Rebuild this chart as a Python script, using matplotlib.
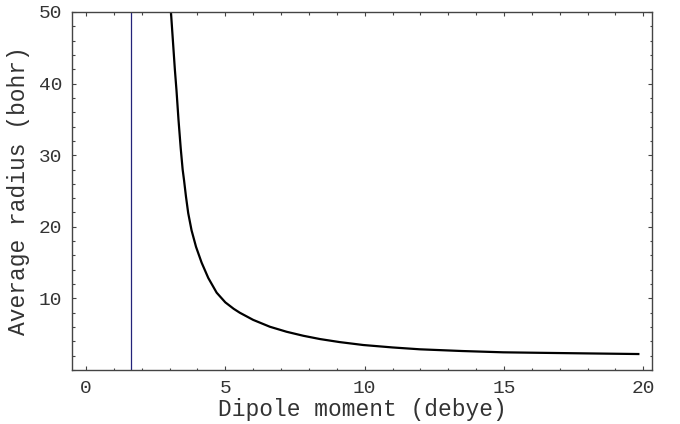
import numpy as np
import matplotlib
matplotlib.use("Agg")
import matplotlib.pyplot as plt
from matplotlib.ticker import MultipleLocator

# critical dipole moment (vertical line), debye
mu_crit = 1.625

# values: dipole moment (debye) -> average radius (bohr)
dipole = [3.05, 3.12, 3.19, 3.25, 3.32, 3.40, 3.47, 3.52, 3.59, 3.67, 3.79,
          3.95, 4.15, 4.39, 4.69, 5.00, 5.30, 5.52, 6.00, 6.60, 7.20, 7.80,
          8.40, 9.10, 9.95, 11.0, 11.98, 13.5, 14.97, 16.3, 17.73, 19.82]
radius = [50.0, 46.0, 42.0, 39.0, 35.0, 31.0, 28.0, 26.5, 24.2, 21.9, 19.5,
          17.2, 15.0, 12.85, 10.8, 9.45, 8.55, 8.0, 7.0, 6.04, 5.34, 4.78,
          4.32, 3.90, 3.49, 3.15, 2.89, 2.65, 2.47, 2.40, 2.33, 2.23]

xticks = [0, 5, 10, 15, 20]
yticks = [10, 20, 30, 40, 50]

fig = plt.figure(figsize=(6.8, 4.24), dpi=100)
ax = fig.add_axes([72/680, 54/424, 580/680, 358/424])

ax.plot(dipole, radius, color="black", lw=1.6, solid_joinstyle="round")
ax.axvline(mu_crit, color="#23237a", lw=0.9)

ax.set_xlim(-0.5, 20.31)
ax.set_ylim(0, 50)
ax.set_xticks(xticks)
ax.set_yticks(yticks)
ax.xaxis.set_minor_locator(MultipleLocator(1))
ax.yaxis.set_minor_locator(MultipleLocator(2))

font = "Liberation Mono"
ax.tick_params(which="both", direction="in", top=True, right=True,
               color="#444444", width=0.8)
ax.tick_params(which="major", length=3.2, pad=7)
ax.tick_params(which="minor", length=1.8)
for lab in ax.get_xticklabels() + ax.get_yticklabels():
    lab.set_fontfamily(font)
    lab.set_fontsize(14)
    lab.set_color("#333333")
for s in ax.spines.values():
    s.set_color("#444444")
    s.set_linewidth(1.0)

ax.set_xlabel("Dipole moment (debye)", fontfamily=font, fontsize=16.5,
              color="#333333", labelpad=1)
ax.set_ylabel("Average radius (bohr)", fontfamily=font, fontsize=16.5,
              color="#333333", labelpad=6)

fig.savefig("out.png", dpi=100)
